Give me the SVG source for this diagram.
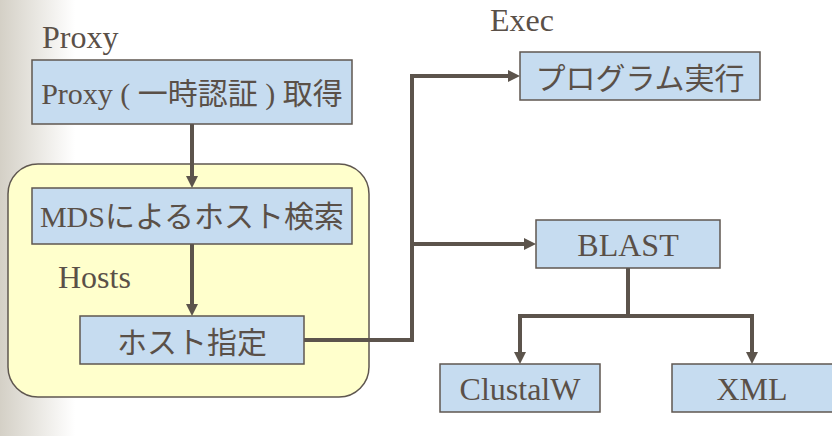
<svg xmlns="http://www.w3.org/2000/svg" width="832" height="436" viewBox="0 0 832 436">
<defs>
<linearGradient id="side" x1="0" y1="0" x2="1" y2="0">
<stop offset="0" stop-color="#d4d0c6"/>
<stop offset="1" stop-color="#ffffff"/>
</linearGradient>
<marker id="ah" viewBox="0 0 12 12" markerUnits="userSpaceOnUse" markerWidth="12" markerHeight="12" refX="4" refY="6" orient="auto">
<path d="M0,0 L12,6 L0,12 z" fill="#5c544c"/>
</marker>
<style>
.box{fill:#c6dcf0;stroke:#5f5750;stroke-width:1.5}
.t{font-family:"Liberation Serif","Noto Sans CJK JP",serif;fill:#5a5048;font-size:30px;text-anchor:middle}
.lbl{font-family:"Liberation Serif","Noto Sans CJK JP",serif;fill:#5a5048;font-size:32px}
.lat{font-size:32px}
.c{fill:none;stroke:#5c544c;stroke-width:4}
</style>
</defs>
<rect x="0" y="0" width="832" height="436" fill="#ffffff"/>
<rect x="0" y="0" width="75" height="436" fill="url(#side)"/>
<g id="hosts-group">
<rect x="8" y="164" width="361" height="233" rx="30" ry="30" fill="#ffffcc" stroke="#5f5750" stroke-width="1.5"/>
<text class="lbl" x="58" y="288">Hosts</text>
</g>
<g id="proxy-label"><text class="lbl" x="42" y="48">Proxy</text></g>
<g id="exec-label"><text class="lbl" x="490" y="31">Exec</text></g>
<g id="connectors">
<path class="c" d="M192,124 V180" marker-end="url(#ah)"/>
<path class="c" d="M192,244 V308" marker-end="url(#ah)"/>
<path class="c" d="M304,340 H412 V76 H512" marker-end="url(#ah)"/>
<path class="c" d="M412,244 H528" marker-end="url(#ah)"/>
<path class="c" d="M628,268 V316 H520 V356" marker-end="url(#ah)"/>
<path class="c" d="M628,316 H752 V356" marker-end="url(#ah)"/>
</g>
<g id="proxy">
<rect class="box" x="32" y="60" width="320" height="64"/>
<text class="t" x="192" y="104">Proxy ( 一時認証 ) 取得</text>
</g>
<g id="mds">
<rect class="box" x="32" y="188" width="320" height="56"/>
<text class="t" x="192" y="227">MDSによるホスト検索</text>
</g>
<g id="host">
<rect class="box" x="80" y="316" width="224" height="48"/>
<text class="t" x="192" y="353">ホスト指定</text>
</g>
<g id="exec">
<rect class="box" x="520" y="52" width="240" height="48"/>
<text class="t" x="640" y="89">プログラム実行</text>
</g>
<g id="blast">
<rect class="box" x="536" y="220" width="184" height="48"/>
<text class="t lat" x="628" y="256">BLAST</text>
</g>
<g id="clustalw">
<rect class="box" x="440" y="364" width="160" height="48"/>
<text class="t lat" x="520" y="400">ClustalW</text>
</g>
<g id="xml">
<rect class="box" x="672" y="364" width="164" height="48"/>
<text class="t lat" x="752" y="400">XML</text>
</g>
</svg>
